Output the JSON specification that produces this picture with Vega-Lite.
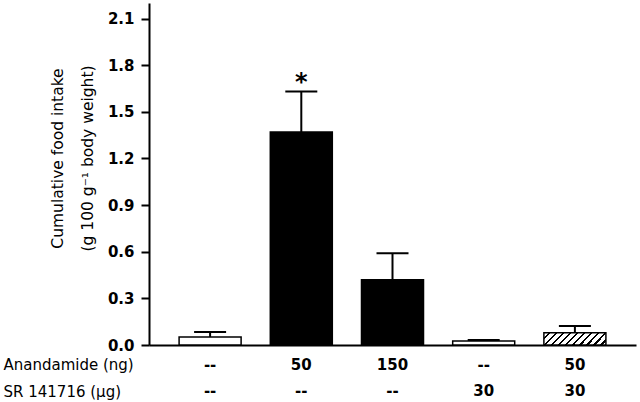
{
  "$schema": "https://vega.github.io/schema/vega-lite/v6.json",
  "width": 487,
  "height": 342,
  "autosize": "none",
  "padding": {"left": 149, "top": 3, "right": 4, "bottom": 57},
  "background": "white",
  "data": {
    "values": [
      {"cat": "--|--", "value": 0.052, "upper": 0.084, "color": "white", "sig": ""},
      {"cat": "50|--", "value": 1.37, "upper": 1.63, "color": "black", "sig": "*"},
      {"cat": "150|--", "value": 0.42, "upper": 0.59, "color": "black", "sig": ""},
      {"cat": "--|30", "value": 0.026, "upper": 0.032, "color": "white", "sig": ""},
      {"cat": "50|30", "value": 0.078, "upper": 0.123, "color": "hatch", "sig": ""}
    ]
  },
  "encoding": {
    "x": {
      "field": "cat",
      "type": "nominal",
      "sort": null,
      "scale": {"paddingInner": 0.32, "paddingOuter": 0.33},
      "axis": {
        "labelAngle": 0,
        "labelExpr": "split(datum.value, '|')",
        "labelFont": "DejaVu Sans",
        "labelFontSize": 15,
        "labelFontWeight": "bold",
        "labelColor": "black",
        "labelLineHeight": 26,
        "labelPadding": 12,
        "labelBaseline": "top",
        "ticks": false,
        "domainColor": "black",
        "domainWidth": 2,
        "title": ["Anandamide (ng)", "SR 141716 (µg)"],
        "titleFont": "DejaVu Sans",
        "titleFontSize": 15,
        "titleFontWeight": "normal",
        "titleColor": "black",
        "titleLineHeight": 27,
        "titleAngle": 0,
        "titleAlign": "left",
        "titleBaseline": "top",
        "titleX": -146,
        "titleY": 12
      }
    }
  },
  "layer": [
    {
      "mark": {"type": "bar", "stroke": "black", "strokeWidth": 1.5},
      "encoding": {
        "y": {
          "field": "value",
          "type": "quantitative",
          "scale": {"domain": [0, 2.2], "nice": false},
          "axis": {
            "values": [0, 0.3, 0.6, 0.9, 1.2, 1.5, 1.8, 2.1],
            "format": ".1f",
            "grid": false,
            "domainColor": "black",
            "domainWidth": 2,
            "tickColor": "black",
            "tickWidth": 2,
            "tickSize": 8,
            "labelFont": "DejaVu Sans",
            "labelFontSize": 15,
            "labelFontWeight": "bold",
            "labelColor": "black",
            "labelPadding": 7,
            "title": ["Cumulative food intake", "(g 100 g⁻¹ body weight)"],
            "titleFont": "DejaVu Sans",
            "titleFontSize": 15.5,
            "titleFontWeight": "normal",
            "titleColor": "black",
            "titleLineHeight": 30,
            "titleAngle": 270,
            "titleAlign": "center",
            "titleBaseline": "top",
            "titleX": -99,
            "titleY": 155
          }
        },
        "fill": {
          "condition": {
            "test": "datum.color === 'hatch'",
            "value": {
              "gradient": "linear",
              "x1": 0, "y1": 0, "x2": 1.2, "y2": 0.232,
              "stops": [
                {"offset": 0, "color": "white"}, {"offset": 0.059, "color": "white"}, {"offset": 0.059, "color": "black"}, {"offset": 0.0909, "color": "black"},
                {"offset": 0.0909, "color": "white"}, {"offset": 0.150, "color": "white"}, {"offset": 0.150, "color": "black"}, {"offset": 0.1818, "color": "black"},
                {"offset": 0.1818, "color": "white"}, {"offset": 0.2409, "color": "white"}, {"offset": 0.2409, "color": "black"}, {"offset": 0.2727, "color": "black"},
                {"offset": 0.2727, "color": "white"}, {"offset": 0.3318, "color": "white"}, {"offset": 0.3318, "color": "black"}, {"offset": 0.3636, "color": "black"},
                {"offset": 0.3636, "color": "white"}, {"offset": 0.4227, "color": "white"}, {"offset": 0.4227, "color": "black"}, {"offset": 0.4545, "color": "black"},
                {"offset": 0.4545, "color": "white"}, {"offset": 0.5136, "color": "white"}, {"offset": 0.5136, "color": "black"}, {"offset": 0.5455, "color": "black"},
                {"offset": 0.5455, "color": "white"}, {"offset": 0.6045, "color": "white"}, {"offset": 0.6045, "color": "black"}, {"offset": 0.6364, "color": "black"},
                {"offset": 0.6364, "color": "white"}, {"offset": 0.6955, "color": "white"}, {"offset": 0.6955, "color": "black"}, {"offset": 0.7273, "color": "black"},
                {"offset": 0.7273, "color": "white"}, {"offset": 0.7864, "color": "white"}, {"offset": 0.7864, "color": "black"}, {"offset": 0.8182, "color": "black"},
                {"offset": 0.8182, "color": "white"}, {"offset": 0.8773, "color": "white"}, {"offset": 0.8773, "color": "black"}, {"offset": 0.9091, "color": "black"},
                {"offset": 0.9091, "color": "white"}, {"offset": 0.9682, "color": "white"}, {"offset": 0.9682, "color": "black"}, {"offset": 1, "color": "black"}
              ]
            }
          },
          "field": "color",
          "type": "nominal",
          "scale": null,
          "legend": null
        }
      }
    },
    {
      "mark": {"type": "rule", "color": "black", "strokeWidth": 2},
      "encoding": {
        "y": {"field": "value", "type": "quantitative"},
        "y2": {"field": "upper"}
      }
    },
    {
      "mark": {"type": "tick", "color": "black", "size": 32, "thickness": 2, "opacity": 1},
      "encoding": {
        "y": {"field": "upper", "type": "quantitative"}
      }
    },
    {
      "mark": {"type": "text", "font": "DejaVu Sans", "fontSize": 24, "fontWeight": "bold", "color": "black", "baseline": "alphabetic", "dy": -2},
      "encoding": {
        "y": {"field": "upper", "type": "quantitative"},
        "text": {"field": "sig"}
      }
    }
  ],
  "config": {"view": {"stroke": null}}
}
